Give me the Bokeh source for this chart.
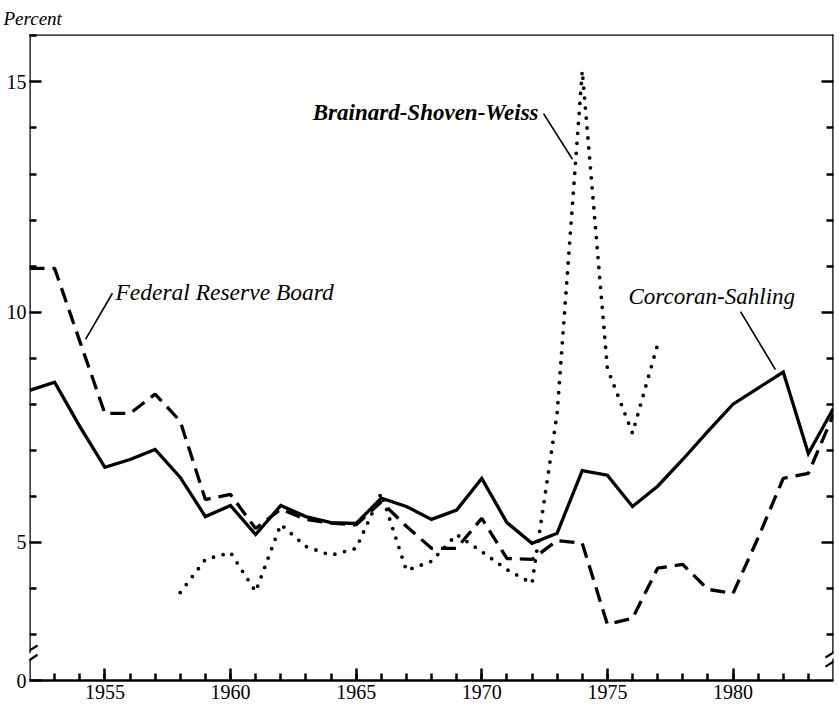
from bokeh.plotting import figure
from bokeh.models import FixedTicker, LinearAxis, Label, Arrow, Range1d
from bokeh.embed import file_html
from bokeh.resources import INLINE

# ---------------- data ----------------
years_cs = list(range(1952, 1985))
corcoran_sahling = [8.30, 8.48, 7.52, 6.63, 6.80, 7.02, 6.41, 5.56, 5.80, 5.17,
                    5.80, 5.56, 5.43, 5.41, 5.96, 5.78, 5.50, 5.70, 6.39, 5.43,
                    4.98, 5.20, 6.56, 6.46, 5.78, 6.22, 6.80, 7.41, 8.00, 8.35,
                    8.70, 6.93, 7.91]

years_frb = list(range(1952, 1985))
federal_reserve = [10.95, 10.95, 9.37, 7.80, 7.80, 8.22, 7.63, 5.93, 6.04, 5.30,
                   5.72, 5.50, 5.42, 5.38, 5.88, 5.35, 4.87, 4.87, 5.52, 4.65,
                   4.63, 5.04, 4.98, 3.22, 3.35, 4.44, 4.52, 3.98, 3.89, 5.10,
                   6.39, 6.50, 7.78]

years_bsw = list(range(1958, 1978))
brainard_shoven_weiss = [3.91, 4.63, 4.78, 3.93, 5.39, 4.91, 4.72, 4.87, 6.07, 4.39,
                         4.59, 5.17, 4.80, 4.41, 4.11, 7.80, 15.24, 8.78, 7.37, 9.30]

x_major = [1955, 1960, 1965, 1970, 1975, 1980]
x_minor = list(range(1953, 1984))
y_major = [2, 5, 10, 15]
y_minor = [3, 4, 6, 7, 8, 9, 11, 12, 13, 14, 16]
y_labels = {2: "0"}

X0, X1 = 1952, 1984
Y0, Y1 = 2, 16.03

SERIF = "Liberation Serif"

p = figure(width=839, height=710, output_backend="svg", toolbar_location=None,
           x_range=Range1d(X0, X1), y_range=Range1d(Y0, Y1),
           min_border_left=29, min_border_right=6, min_border_top=33,
           min_border_bottom=30, background_fill_color="white",
           border_fill_color="white", title="Percent")
p.outline_line_color = None
p.grid.visible = False

p.title.align = "left"
p.title.offset = -26
p.title.text_font = SERIF
p.title.text_font_style = "italic"
p.title.text_font_size = "19px"
p.title.text_color = "black"
p.title.standoff = 11

# bottom axis
xa = p.xaxis[0]
xa.ticker = FixedTicker(ticks=x_major, minor_ticks=x_minor)
xa.axis_line_color = "black"
xa.axis_line_width = 2.5
xa.major_tick_in = 12
xa.major_tick_out = 0
xa.minor_tick_in = 7
xa.minor_tick_out = 0
xa.major_tick_line_width = 2.5
xa.minor_tick_line_width = 2.5
xa.major_label_text_font = SERIF
xa.major_label_text_font_size = "20px"
xa.major_label_text_color = "black"
xa.major_label_standoff = 4

# left axis
ya = p.yaxis[0]
ya.ticker = FixedTicker(ticks=y_major, minor_ticks=y_minor)
ya.major_label_overrides = y_labels
ya.axis_line_color = None
ya.major_tick_in = 12
ya.major_tick_out = 0
ya.minor_tick_in = 7
ya.minor_tick_out = 0
ya.major_tick_line_width = 2.5
ya.minor_tick_line_width = 2.5
ya.major_label_text_font = SERIF
ya.major_label_text_font_size = "20px"
ya.major_label_text_color = "black"
ya.major_label_standoff = 3

# right axis (ticks only)
r_major = y_major[1:]
ra = LinearAxis(ticker=FixedTicker(ticks=r_major, minor_ticks=y_minor[:-1]),
                axis_line_color=None, major_tick_in=12, major_tick_out=0,
                minor_tick_in=7, minor_tick_out=0, major_tick_line_width=2.5,
                minor_tick_line_width=2.5,
                major_label_overrides={t: "" for t in r_major},
                major_label_standoff=0)
p.add_layout(ra, "right")

# series
p.line(years_cs, corcoran_sahling, line_color="black", line_width=3.3,
       line_join="miter")
p.line(years_frb, federal_reserve, line_color="black", line_width=3.3,
       line_dash="15 8")
p.line(years_bsw, brainard_shoven_weiss, line_color="black", line_width=3.8,
       line_dash="0 10", line_cap="round")

# frame lines with axis breaks
gap_lo, gap_hi = 2.45, 2.62
frame_segments = [
    (X0, gap_hi, X0, Y1), (X0, Y0, X0, gap_lo),
    (X1, gap_hi, X1, Y1), (X1, Y0, X1, gap_lo),
    (X0, Y1, X1, Y1),
]
for xs, ys, xe, ye in frame_segments:
    p.add_layout(Arrow(end=None, x_start=xs, y_start=ys, x_end=xe, y_end=ye,
                       line_color="black", line_width=2.5, line_cap="square"))

break_marks = [
    (X0 - 0.45, 2.50, X0 + 0.32, 2.76), (X0 - 0.40, 2.30, X0 + 0.32, 2.56),
    (X1 - 0.32, 2.50, X1 + 0.45, 2.76), (X1 - 0.32, 2.30, X1 + 0.45, 2.56),
]
for xs, ys, xe, ye in break_marks:
    p.add_layout(Arrow(end=None, x_start=xs, y_start=ys, x_end=xe, y_end=ye,
                       line_color="black", line_width=2.2))

# labels and leaders
labels = [
    ("Brainard-Shoven-Weiss", 1972.26, 14.34, "right", "bold italic", "23px"),
    ("Federal Reserve Board", 1955.42, 10.43, "left", "italic", "23.5px"),
    ("Corcoran-Sahling", 1975.84, 10.34, "left", "italic", "23px"),
]
for txt, lx, ly, al, style, size in labels:
    p.add_layout(Label(x=lx, y=ly, text=txt, text_font=SERIF,
                       text_font_style=style, text_font_size=size,
                       text_align=al, text_baseline="middle",
                       text_color="black"))

leaders = [
    (1972.46, 14.31, 1973.61, 13.32),
    (1955.30, 10.41, 1954.23, 9.41),
    (1980.30, 10.01, 1981.69, 8.75),
]
for xs, ys, xe, ye in leaders:
    p.add_layout(Arrow(end=None, x_start=xs, y_start=ys, x_end=xe, y_end=ye,
                       line_color="black", line_width=1.6))

open("out.html", "w").write(file_html(p, INLINE))
